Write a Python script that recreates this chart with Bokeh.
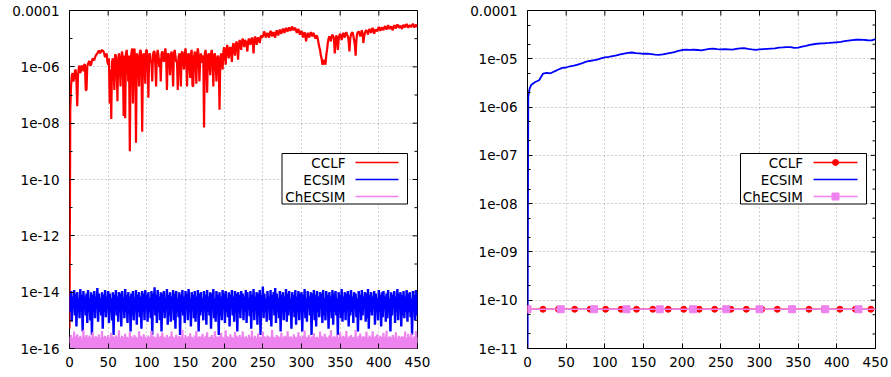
import numpy as np
from bokeh.plotting import figure
from bokeh.layouts import row
from bokeh.models import Range1d, FixedTicker, BoxAnnotation, Label
from bokeh.embed import file_html
from bokeh.resources import INLINE

# ---------------- data ----------------
steps_left = list(range(0, 451, 1))

cclf_left = [
    5e-16, 3e-8, 2e-7, 5e-7, 6e-7, 3e-7, 4e-7, 7e-7, 8e-7, 3e-7,
    4e-8, 5e-7, 9e-7, 1.1e-6, 6e-7, 8e-7, 1.1e-6, 1e-6, 7e-7, 1.2e-6,
    1.2e-6, 1.5e-7, 1.5e-7, 1e-6, 1.3e-6, 1.5e-6, 1.6e-6, 1.1e-6, 1.2e-6, 1.6e-6,
    2e-6, 1.8e-6, 1.7e-6, 2.2e-6, 2.5e-6, 2.8e-6, 3e-6, 3.4e-6, 3.8e-6, 3.2e-6,
    3.2e-6, 3.6e-6, 4e-6, 3.7e-6, 3.5e-6, 2.8e-6, 2.2e-6, 2.6e-6, 3e-6, 1.5e-6,
    1.2e-6, 2e-6, 5e-8, 8e-7, 1.4e-8, 1.5e-6, 2e-6, 1e-6, 1.5e-7, 2.8e-6,
    2.5e-6, 9e-7, 6e-8, 1.8e-6, 3e-6, 1.2e-6, 2e-7, 2.2e-6, 3.5e-6, 1.4e-6,
    1.8e-8, 2.5e-6, 1.5e-8, 3e-6, 4e-6, 1.6e-6, 3e-7, 2.5e-6, 1e-9, 1.5e-6,
    3e-6, 4.5e-6, 5e-8, 2e-6, 4.5e-6, 1.2e-6, 2e-9, 3e-6, 2.5e-6, 1.4e-6,
    2e-7, 3.5e-6, 4e-6, 1.6e-6, 5e-9, 2.5e-6, 3e-6, 1.2e-6, 2.5e-7, 3.8e-6,
    4e-6, 2e-6, 8e-8, 2.4e-6, 3e-6, 1.5e-6, 1.5e-6, 3e-7, 2.8e-6, 3.5e-6,
    3.5e-6, 1.1e-6, 2e-7, 2.5e-6, 4e-6, 2.6e-6, 1e-6, 2e-6, 3e-7, 3e-6,
    3.5e-6, 2.2e-6, 1.5e-6, 3e-6, 4.5e-6, 2e-6, 1.5e-7, 2.8e-6, 3e-6, 1.8e-6,
    5e-7, 2.5e-6, 3.5e-6, 1.3e-6, 2e-7, 3e-6, 4e-6, 2.4e-6, 1.5e-6, 1.6e-6,
    1.5e-7, 2.2e-6, 3e-6, 1.2e-6, 2e-7, 3.2e-6, 3.5e-6, 1.7e-6, 8e-7, 2.8e-6,
    4.5e-6, 2e-6, 2e-7, 2.5e-6, 3e-6, 1.5e-6, 4e-7, 3e-6, 4e-6, 2.2e-7,
    2e-7, 2.2e-6, 3.5e-6, 1.6e-6, 2.5e-7, 3e-6, 4.5e-6, 2.5e-6, 3e-7, 1.8e-6,
    3e-6, 1.5e-6, 1.5e-6, 2.6e-6, 7e-9, 3e-6, 4e-6, 1.8e-6, 1.2e-7, 2.4e-6,
    3e-6, 1.6e-6, 5e-7, 3e-6, 4e-6, 2e-6, 2e-7, 2.5e-6, 3e-6, 1.5e-6,
    3e-7, 2e-6, 2.5e-6, 1.2e-6, 3e-8, 2e-6, 3e-6, 2e-6, 8e-7, 3.5e-6,
    5e-6, 2.5e-6, 1.2e-6, 4e-6, 6e-6, 3e-6, 2e-6, 4.5e-6, 5e-6, 3e-6,
    1.5e-6, 5e-6, 7e-6, 4e-6, 2.5e-6, 6e-6, 8e-6, 5e-6, 1.8e-6, 6e-6,
    9e-6, 6e-6, 4e-6, 8e-6, 1e-5, 7e-6, 5e-6, 9e-6, 8e-6, 6e-6,
    3.5e-6, 8e-6, 1e-5, 8e-6, 6e-6, 9e-6, 1.1e-5, 8e-6, 3e-6, 9e-6,
    1.2e-5, 9e-6, 6e-6, 1e-5, 1.1e-5, 9e-6, 7e-6, 1.1e-5, 1.3e-5, 1.1e-5,
    1.2e-5, 1.5e-5, 1.8e-5, 1.3e-5, 1.1e-5, 1.4e-5, 1.6e-5, 1.3e-5, 1.1e-5, 1.5e-5,
    1.9e-5, 1.5e-5, 1.2e-5, 1.6e-5, 1.7e-5, 1.3e-5, 1.1e-5, 1.6e-5, 2e-5, 1.6e-5,
    1.3e-5, 1.8e-5, 2.1e-5, 1.7e-5, 1.5e-5, 1.9e-5, 2.3e-5, 1.9e-5, 1.6e-5, 2.1e-5,
    2.4e-5, 2e-5, 1.8e-5, 2.2e-5, 2.5e-5, 2.1e-5, 1.9e-5, 2.4e-5, 2.7e-5, 2.2e-5,
    2e-5, 2.3e-5, 2.4e-5, 1.9e-5, 1.6e-5, 2e-5, 2.2e-5, 1.7e-5, 1.4e-5, 1.7e-5,
    1.9e-5, 1.5e-5, 1.1e-5, 1.5e-5, 1.7e-5, 1.2e-5, 8e-6, 1.3e-5, 1.6e-5, 1.3e-5,
    1.1e-5, 1.4e-5, 1.7e-5, 1.4e-5, 1.2e-5, 1.6e-5, 1.5e-5, 1.2e-5, 1e-5, 1.2e-5,
    1.3e-5, 1e-5, 7e-6, 5e-6, 4e-6, 2.5e-6, 2e-6, 1.2e-6, 1.3e-6, 1.8e-6,
    1.5e-6, 1.2e-6, 2.5e-6, 4e-6, 7e-6, 1e-5, 1.2e-5, 1e-5, 8e-6, 1.2e-5,
    1.4e-5, 1.2e-5, 1e-5, 3e-6, 8e-6, 1.3e-5, 1.1e-5, 4e-6, 9e-6, 1.3e-5,
    1.5e-5, 1.2e-5, 9e-6, 1.3e-5, 1.6e-5, 1.3e-5, 1.1e-5, 1.5e-5, 1.7e-5, 1.4e-5,
    1.2e-5, 8e-6, 3.5e-6, 1e-5, 1.4e-5, 1.6e-5, 1.7e-5, 1.3e-5, 9e-6, 6e-6,
    2.5e-6, 9e-6, 1.5e-5, 1.7e-5, 1.8e-5, 1.5e-5, 1.2e-5, 1.6e-5, 2e-5, 1.5e-5,
    7e-6, 1.2e-5, 1.6e-5, 1.9e-5, 2e-5, 1.7e-5, 1.4e-5, 1.9e-5, 2.2e-5, 1.9e-5,
    1.6e-5, 2e-5, 2.4e-5, 2e-5, 1.5e-5, 1.9e-5, 2.1e-5, 2e-5, 1.8e-5, 2.2e-5,
    2.6e-5, 2.2e-5, 1.9e-5, 2.3e-5, 2.5e-5, 2.2e-5, 2e-5, 2.5e-5, 2.8e-5, 2.4e-5,
    2.1e-5, 2.6e-5, 3e-5, 2.5e-5, 2.2e-5, 2.5e-5, 2.7e-5, 2.3e-5, 2e-5, 2.6e-5,
    3e-5, 2.6e-5, 2.3e-5, 2.8e-5, 3.2e-5, 2.8e-5, 2.4e-5, 2.7e-5, 2.9e-5, 2.5e-5,
    2.2e-5, 2.7e-5, 3.1e-5, 2.8e-5, 2.5e-5, 3e-5, 3.3e-5, 2.9e-5, 2.4e-5, 2.8e-5,
    3e-5, 2.8e-5, 2.6e-5, 3e-5, 3.4e-5, 2.9e-5, 2.5e-5, 2.9e-5, 3.1e-5, 2.8e-5,
    2.7e-5,
]

ecsim_left = [
    8e-15, 2e-15, 1.1e-14, 9e-16, 7e-15, 3e-15, 1.2e-14, 1.5e-15, 9e-15, 6e-16,
    1e-14, 2.5e-15, 6e-15, 1.2e-15, 1.3e-14, 2e-15, 8e-15, 4e-16, 1.1e-14, 3e-15,
    7e-15, 1.5e-15, 9e-15, 8e-16, 1.2e-14, 2e-15, 6e-15, 1e-15, 1e-14, 3e-16,
    8e-15, 2.5e-15, 1.1e-14, 1.2e-15, 7e-15, 3e-15, 1.4e-14, 9e-16, 9e-15, 2e-15,
    6e-15, 1.5e-15, 1e-14, 5e-16, 8e-15, 2e-15, 1.2e-14, 1.3e-15, 7e-15, 3e-15,
    1.1e-14, 8e-16, 9e-15, 2e-15, 6e-15, 1e-15, 1e-14, 3e-16, 8e-15, 2.5e-15,
    1.2e-14, 1.5e-15, 7e-15, 9e-16, 1e-14, 2e-15, 9e-15, 6e-16, 1.1e-14, 3e-15,
    6e-15, 1.2e-15, 1.3e-14, 2e-15, 8e-15, 8e-16, 1e-14, 2.5e-15, 7e-15, 4e-16,
    9e-15, 1.5e-15, 1.1e-14, 1e-15, 6e-15, 3e-15, 1.2e-14, 7e-16, 8e-15, 2e-15,
    1e-14, 1.3e-15, 7e-15, 5e-16, 1.1e-14, 2e-15, 9e-15, 1e-15, 1.2e-14, 3e-15,
    8e-15, 9e-16, 1e-14, 2e-15, 6e-15, 1.2e-15, 1.1e-14, 3e-16, 9e-15, 2.5e-15,
    1.5e-14, 1.5e-15, 8e-15, 8e-16, 1.2e-14, 2e-15, 7e-15, 1e-15, 1e-14, 4e-16,
    9e-15, 2e-15, 1.1e-14, 1.2e-15, 6e-15, 3e-15, 1.3e-14, 7e-16, 8e-15, 1.5e-15,
    1e-14, 9e-16, 7e-15, 2.5e-15, 1.2e-14, 1e-15, 9e-15, 5e-16, 1.1e-14, 2e-15,
    6e-15, 1.3e-15, 1e-14, 3e-16, 8e-15, 2e-15, 1.2e-14, 1.5e-15, 7e-15, 8e-16,
    1.1e-14, 2.5e-15, 9e-15, 1e-15, 1.3e-14, 2e-15, 6e-15, 6e-16, 1e-14, 3e-15,
    8e-15, 1.2e-15, 1.1e-14, 9e-16, 7e-15, 2e-15, 1.2e-14, 4e-16, 9e-15, 1.5e-15,
    1e-14, 2e-15, 6e-15, 1e-15, 1.1e-14, 3e-15, 8e-15, 7e-16, 1.2e-14, 2e-15,
    7e-15, 1.5e-15, 1e-14, 5e-16, 9e-15, 2.5e-15, 1.3e-14, 1.2e-15, 6e-15, 9e-16,
    1.1e-14, 2e-15, 8e-15, 3e-16, 1e-14, 1.5e-15, 7e-15, 1e-15, 1.2e-14, 2.5e-15,
    9e-15, 8e-16, 1.1e-14, 2e-15, 6e-15, 1.3e-15, 1e-14, 6e-16, 8e-15, 3e-15,
    1.2e-14, 1.5e-15, 7e-15, 9e-16, 1.1e-14, 2e-15, 9e-15, 4e-16, 1e-14, 2e-15,
    8e-15, 1.2e-15, 1.1e-14, 2.5e-15, 9e-15, 1e-15, 7e-15, 2e-15, 1.2e-14, 8e-16,
    1e-14, 3e-15, 6e-15, 1.4e-15, 1.1e-14, 5e-16, 8e-15, 2e-15, 1.3e-14, 1e-15,
    7e-15, 2.5e-15, 1e-14, 7e-16, 9e-15, 1.5e-15, 1.2e-14, 3e-16, 8e-15, 2e-15,
    1.6e-14, 1.2e-15, 9e-15, 2e-15, 6e-15, 9e-16, 1.1e-14, 3e-15, 7e-15, 1e-15,
    1.2e-14, 6e-16, 8e-15, 2.5e-15, 1e-14, 1.5e-15, 1.4e-14, 8e-16, 9e-15, 2e-15,
    6e-15, 1.2e-15, 1.1e-14, 4e-16, 8e-15, 3e-15, 1e-14, 1e-15, 7e-15, 2e-15,
    1.3e-14, 9e-16, 9e-15, 1.5e-15, 1.1e-14, 2.5e-15, 6e-15, 5e-16, 1e-14, 2e-15,
    8e-15, 1.3e-15, 1.2e-14, 7e-16, 7e-15, 2e-15, 1.1e-14, 1e-15, 9e-15, 3e-15,
    1e-14, 4e-16, 8e-15, 2e-15, 1.3e-14, 1.2e-15, 6e-15, 9e-16, 1.1e-14, 2.5e-15,
    7e-15, 1.5e-15, 1e-14, 3e-16, 9e-15, 2e-15, 1.2e-14, 1e-15, 8e-15, 6e-16,
    1.1e-14, 2e-15, 7e-15, 1.3e-15, 1e-14, 3e-15, 9e-15, 8e-16, 1.2e-14, 1.5e-15,
    6e-15, 1e-15, 1.1e-14, 2.5e-15, 8e-15, 5e-16, 1e-14, 2e-15, 7e-15, 1.2e-15,
    1.2e-14, 7e-16, 9e-15, 2e-15, 1.1e-14, 1.5e-15, 6e-15, 3e-16, 1e-14, 2.5e-15,
    8e-15, 1.2e-15, 1.3e-14, 9e-16, 7e-15, 2e-15, 1e-14, 1e-15, 9e-15, 3e-15,
    1.1e-14, 6e-16, 8e-15, 1.5e-15, 1.2e-14, 2e-15, 7e-15, 8e-16, 1e-14, 2.5e-15,
    9e-15, 1.3e-15, 6e-15, 4e-16, 1.1e-14, 2e-15, 8e-15, 1e-15, 1.2e-14, 1.5e-15,
    7e-15, 2.5e-15, 1e-14, 9e-16, 9e-15, 1.2e-15, 1.3e-14, 5e-16, 8e-15, 2e-15,
    1e-14, 1.5e-15, 7e-15, 3e-15, 1.1e-14, 7e-16, 9e-15, 2e-15, 6e-15, 1e-15,
    1.2e-14, 2e-15, 8e-15, 6e-16, 1e-14, 1.3e-15, 1.1e-14, 2.5e-15, 7e-15, 9e-16,
    9e-15, 1.2e-15, 1.2e-14, 2e-15, 6e-15, 4e-16, 1e-14, 1.5e-15, 8e-15, 3e-15,
    1.1e-14, 8e-16, 7e-15, 2e-15, 1.3e-14, 1e-15, 9e-15, 2.5e-15, 1e-14, 6e-16,
    8e-15, 1.5e-15, 1.1e-14, 1.2e-15, 7e-15, 2e-15, 1.2e-14, 9e-16, 9e-15, 2e-15,
    1e-14, 1.3e-15, 6e-15, 3e-16, 1.1e-14, 2.5e-15, 8e-15, 1e-15, 1.2e-14, 1.5e-15,
    9e-15,
]

checsim_left = [
    2.6e-16, 5e-17, 3e-16, 4e-17, 2.4e-16, 6e-17, 4e-16, 3e-17, 2.7e-16, 5e-17,
    3.2e-16, 4e-17, 2.5e-16, 6e-17, 2.8e-16, 3e-17, 2.3e-16, 5e-17, 4.5e-16, 4e-17,
    2.6e-16, 6e-17, 3e-16, 3e-17, 2.5e-16, 5e-17, 2.9e-16, 4e-17, 2.4e-16, 6e-17,
    3.8e-16, 5e-17, 2.6e-16, 4e-17, 2.7e-16, 3e-17, 2.5e-16, 6e-17, 3.1e-16, 5e-17,
    2.4e-16, 4e-17, 4.2e-16, 3e-17, 2.6e-16, 5e-17, 2.8e-16, 6e-17, 2.5e-16, 4e-17,
    3e-16, 5e-17, 2.4e-16, 3e-17, 3.6e-16, 6e-17, 2.7e-16, 4e-17, 2.5e-16, 5e-17,
    2.9e-16, 3e-17, 2.6e-16, 6e-17, 4.4e-16, 4e-17, 2.4e-16, 5e-17, 2.8e-16, 3e-17,
    2.5e-16, 6e-17, 3.3e-16, 4e-17, 2.6e-16, 5e-17, 2.4e-16, 3e-17, 3.9e-16, 6e-17,
    2.7e-16, 4e-17, 2.5e-16, 5e-17, 3e-16, 3e-17, 2.6e-16, 6e-17, 2.4e-16, 4e-17,
    4.1e-16, 5e-17, 2.8e-16, 3e-17, 2.5e-16, 6e-17, 3.2e-16, 4e-17, 2.6e-16, 5e-17,
    2.4e-16, 3e-17, 2.9e-16, 6e-17, 2.5e-16, 4e-17, 4.3e-16, 5e-17, 2.7e-16, 3e-17,
    2.6e-16, 6e-17, 2.4e-16, 4e-17, 3.4e-16, 5e-17, 2.5e-16, 3e-17, 2.8e-16, 6e-17,
    3.7e-16, 4e-17, 2.6e-16, 5e-17, 2.4e-16, 3e-17, 3e-16, 6e-17, 2.5e-16, 4e-17,
    2.7e-16, 5e-17, 4e-16, 3e-17, 2.6e-16, 6e-17, 2.4e-16, 4e-17, 3.1e-16, 5e-17,
    2.5e-16, 3e-17, 2.8e-16, 6e-17, 2.6e-16, 4e-17, 4.5e-16, 5e-17, 2.4e-16, 3e-17,
    3e-16, 6e-17, 2.5e-16, 4e-17, 2.7e-16, 5e-17, 3.5e-16, 3e-17, 2.6e-16, 6e-17,
    2.4e-16, 4e-17, 2.9e-16, 5e-17, 4.2e-16, 3e-17, 2.5e-16, 6e-17, 2.7e-16, 4e-17,
    2.6e-16, 5e-17, 3.3e-16, 3e-17, 2.4e-16, 6e-17, 2.8e-16, 4e-17, 3.8e-16, 5e-17,
    2.5e-16, 3e-17, 2.6e-16, 6e-17, 3e-16, 4e-17, 2.4e-16, 5e-17, 4.1e-16, 3e-17,
    2.7e-16, 6e-17, 2.5e-16, 4e-17, 2.8e-16, 5e-17, 3.6e-16, 3e-17, 2.6e-16, 6e-17,
    2.4e-16, 4e-17, 4.4e-16, 5e-17, 2.7e-16, 3e-17, 2.5e-16, 6e-17, 3.2e-16, 4e-17,
    2.6e-16, 5e-17, 2.4e-16, 3e-17, 3.9e-16, 6e-17, 2.8e-16, 4e-17, 2.5e-16, 5e-17,
    3e-16, 3e-17, 2.6e-16, 6e-17, 4e-16, 4e-17, 2.5e-16, 5e-17, 2.7e-16, 3e-17,
    2.4e-16, 6e-17, 3.1e-16, 4e-17, 2.6e-16, 5e-17, 4.3e-16, 3e-17, 2.5e-16, 6e-17,
    2.8e-16, 4e-17, 2.4e-16, 5e-17, 3.4e-16, 3e-17, 2.6e-16, 6e-17, 2.5e-16, 4e-17,
    3.9e-16, 5e-17, 2.7e-16, 3e-17, 2.4e-16, 6e-17, 2.9e-16, 4e-17, 2.6e-16, 5e-17,
    2.5e-16, 3e-17, 4.6e-16, 6e-17, 2.6e-16, 4e-17, 2.4e-16, 5e-17, 3e-16, 3e-17,
    2.7e-16, 6e-17, 2.5e-16, 4e-17, 3.6e-16, 5e-17, 2.4e-16, 3e-17, 2.8e-16, 6e-17,
    2.6e-16, 4e-17, 4.1e-16, 5e-17, 2.5e-16, 3e-17, 2.7e-16, 6e-17, 2.4e-16, 4e-17,
    3.2e-16, 5e-17, 2.6e-16, 3e-17, 2.5e-16, 6e-17, 3.8e-16, 4e-17, 2.7e-16, 5e-17,
    2.4e-16, 3e-17, 2.8e-16, 6e-17, 4.3e-16, 4e-17, 2.5e-16, 5e-17, 2.6e-16, 3e-17,
    3e-16, 6e-17, 2.4e-16, 4e-17, 2.7e-16, 5e-17, 3.5e-16, 3e-17, 2.5e-16, 6e-17,
    2.6e-16, 4e-17, 2.4e-16, 5e-17, 4e-16, 3e-17, 2.8e-16, 6e-17, 2.5e-16, 4e-17,
    3.3e-16, 5e-17, 2.6e-16, 3e-17, 2.4e-16, 6e-17, 2.9e-16, 4e-17, 4.4e-16, 5e-17,
    2.5e-16, 3e-17, 2.7e-16, 6e-17, 2.6e-16, 4e-17, 3.1e-16, 5e-17, 2.4e-16, 3e-17,
    3.7e-16, 6e-17, 2.5e-16, 4e-17, 2.8e-16, 5e-17, 2.6e-16, 3e-17, 4.2e-16, 6e-17,
    2.4e-16, 4e-17, 2.7e-16, 5e-17, 3e-16, 3e-17, 2.5e-16, 6e-17, 2.6e-16, 4e-17,
    4.5e-16, 5e-17, 2.4e-16, 3e-17, 2.8e-16, 6e-17, 3.4e-16, 4e-17, 2.5e-16, 5e-17,
    2.7e-16, 3e-17, 2.6e-16, 6e-17, 3.9e-16, 4e-17, 2.4e-16, 5e-17, 2.9e-16, 3e-17,
    2.5e-16, 6e-17, 4.1e-16, 4e-17, 2.6e-16, 5e-17, 2.7e-16, 3e-17, 3.2e-16, 6e-17,
    2.4e-16, 4e-17, 2.8e-16, 5e-17, 2.5e-16, 3e-17, 3.6e-16, 6e-17, 2.6e-16, 4e-17,
    4.3e-16, 5e-17, 2.4e-16, 3e-17, 2.7e-16, 6e-17, 2.5e-16, 4e-17, 3e-16, 5e-17,
    2.6e-16, 3e-17, 3.8e-16, 6e-17, 2.4e-16, 4e-17, 2.8e-16, 5e-17, 2.5e-16, 3e-17,
    2.7e-16, 6e-17, 2.6e-16, 4e-17, 4e-16, 5e-17, 2.4e-16, 3e-17, 3.3e-16, 6e-17,
    2.6e-16, 5e-17, 3.5e-16, 4e-17, 2.4e-16, 6e-17, 2.7e-16, 3e-17, 4.2e-16, 5e-17,
    2.5e-16,
]

steps_ecsim_right = [0, 1, 2, 3] + list(range(5, 451, 5))
ecsim_right = [
    1e-12, 1.6e-6, 2.1e-6, 2.5e-6,
    2.9e-6, 3.3e-6, 3.6e-6, 4.9e-6, 5.1e-6, 5.0e-6, 5.5e-6, 6.0e-6, 6.5e-6, 6.6e-6,
    7.0e-6, 7.2e-6, 7.6e-6, 8.0e-6, 8.6e-6, 9.0e-6, 9.3e-6, 9.6e-6, 1.02e-5, 1.07e-5,
    1.1e-5, 1.14e-5, 1.18e-5, 1.23e-5, 1.28e-5, 1.33e-5, 1.35e-5, 1.31e-5, 1.3e-5, 1.27e-5,
    1.28e-5, 1.25e-5, 1.22e-5, 1.2e-5, 1.23e-5, 1.28e-5, 1.33e-5, 1.38e-5, 1.45e-5, 1.52e-5,
    1.55e-5, 1.53e-5, 1.54e-5, 1.52e-5, 1.5e-5, 1.55e-5, 1.6e-5, 1.62e-5, 1.58e-5, 1.56e-5,
    1.58e-5, 1.57e-5, 1.55e-5, 1.6e-5, 1.65e-5, 1.67e-5, 1.6e-5, 1.56e-5, 1.53e-5, 1.56e-5,
    1.58e-5, 1.6e-5, 1.62e-5, 1.64e-5, 1.7e-5, 1.72e-5, 1.75e-5, 1.74e-5, 1.68e-5, 1.7e-5,
    1.78e-5, 1.86e-5, 1.95e-5, 2.0e-5, 2.05e-5, 2.08e-5, 2.1e-5, 2.13e-5, 2.17e-5, 2.2e-5,
    2.25e-5, 2.32e-5, 2.38e-5, 2.44e-5, 2.48e-5, 2.5e-5, 2.47e-5, 2.42e-5, 2.4e-5, 2.55e-5,
]

# constant series on the right panel (last point ends the line, no marker there)
steps_cclf_right = [0, 20, 40, 61, 81, 101, 121, 141, 162, 182, 202, 222, 242,
                    263, 283, 303, 323, 343, 364, 384, 404, 424, 444, 450]
cclf_right = [6.5e-11, 6.5e-11, 6.5e-11, 6.5e-11, 6.5e-11, 6.5e-11, 6.5e-11, 6.5e-11,
              6.5e-11, 6.5e-11, 6.5e-11, 6.5e-11, 6.5e-11, 6.5e-11, 6.5e-11, 6.5e-11,
              6.5e-11, 6.5e-11, 6.5e-11, 6.5e-11, 6.5e-11, 6.5e-11, 6.5e-11, 6.5e-11]
steps_checsim_right = [0, 43, 86, 128, 171, 214, 257, 300, 342, 385, 428, 450]
checsim_right = [6.5e-11, 6.5e-11, 6.5e-11, 6.5e-11, 6.5e-11, 6.5e-11,
                 6.5e-11, 6.5e-11, 6.5e-11, 6.5e-11, 6.5e-11, 6.5e-11]

x_ticks = [0, 50, 100, 150, 200, 250, 300, 350, 400, 450]
x_labels = ["0", "50", "100", "150", "200", "250", "300", "350", "400", "450"]
left_y_ticks = [1e-16, 1e-14, 1e-12, 1e-10, 1e-8, 1e-6, 1e-4]
left_y_labels = ["1e-16", "1e-14", "1e-12", "1e-10", "1e-08", "1e-06", "0.0001"]
left_y_minor = [1e-15, 1e-13, 1e-11, 1e-9, 1e-7, 1e-5]
right_y_ticks = [1e-11, 1e-10, 1e-9, 1e-8, 1e-7, 1e-6, 1e-5, 1e-4]
right_y_labels = ["1e-11", "1e-10", "1e-09", "1e-08", "1e-07", "1e-06", "1e-05", "0.0001"]
right_y_minor = [2e-11, 5e-11, 2e-10, 5e-10, 2e-9, 5e-9, 2e-8, 5e-8,
                 2e-7, 5e-7, 2e-6, 5e-6, 2e-5, 5e-5]

series_names = ["CCLF", "ECSIM", "ChECSIM"]
RED, BLUE, VIOLET = "#ff0000", "#0000ff", "#ee82ee"

FONT = "DejaVu Sans"
FSIZE = "13.5px"
HEIGHT = 377
TOP, BOTTOM = 10, 29
FRAME_W = 348
FRAME_H = HEIGHT - TOP - BOTTOM
TICK_MAJ, TICK_MIN = 5, 3


def style_axis(ax):
    ax.axis_line_color = None
    ax.major_tick_line_color = "black"
    ax.minor_tick_line_color = "black"
    ax.major_tick_in = TICK_MAJ
    ax.major_tick_out = 0
    ax.minor_tick_in = TICK_MIN
    ax.minor_tick_out = 0
    ax.major_label_text_font = FONT
    ax.major_label_text_color = "black"
    ax.major_label_text_font_size = FSIZE


def make_fig(width, mbl, mbr, ylo, yhi, yticks, ylabels, yminor):
    p = figure(width=width, height=HEIGHT, output_backend="svg", toolbar_location=None,
               x_range=Range1d(0, 450), y_range=Range1d(ylo, yhi), y_axis_type="log",
               min_border_left=mbl, min_border_right=mbr,
               min_border_top=TOP, min_border_bottom=BOTTOM)
    p.outline_line_color = "black"
    p.outline_line_width = 1
    p.outline_line_alpha = 1
    p.background_fill_color = "white"
    p.border_fill_color = "white"
    xt = FixedTicker(ticks=x_ticks)
    yt = FixedTicker(ticks=yticks, minor_ticks=yminor)
    p.xaxis.ticker = xt
    p.yaxis.ticker = yt
    p.xgrid.ticker = xt
    p.ygrid.ticker = yt
    for g in (p.xgrid, p.ygrid):
        g.grid_line_color = "#a0a0a0"
        g.grid_line_dash = "1 3"
        g.grid_line_width = 1
    p.yaxis.major_label_overrides = dict(zip(yticks, ylabels))
    p.xaxis.major_label_overrides = dict(zip(x_ticks, x_labels))
    style_axis(p.xaxis[0])
    style_axis(p.yaxis[0])
    p.yaxis.major_label_standoff = 10
    p.xaxis.major_label_standoff = 8

    # mirrored inward ticks on the top and right borders (gnuplot style)
    l0, l1 = np.log10(ylo), np.log10(yhi)
    dx_maj = TICK_MAJ / FRAME_W * 450.0
    dx_min = TICK_MIN / FRAME_W * 450.0
    p.segment(x0=[450] * len(yticks), y0=yticks,
              x1=[450 - dx_maj] * len(yticks), y1=yticks,
              line_color="black", line_width=1)
    p.segment(x0=[450] * len(yminor), y0=yminor,
              x1=[450 - dx_min] * len(yminor), y1=yminor,
              line_color="black", line_width=1)
    ytop_in = 10 ** (l1 - TICK_MAJ / FRAME_H * (l1 - l0))
    p.segment(x0=x_ticks, y0=[yhi] * len(x_ticks),
              x1=x_ticks, y1=[ytop_in] * len(x_ticks),
              line_color="black", line_width=1)
    return p


def px2data(px, py, fl, ylo, yhi):
    """convert figure-pixel layout positions to data coordinates (for the key box)"""
    x = (px - fl) / FRAME_W * 450.0
    l0, l1 = np.log10(ylo), np.log10(yhi)
    ly = l1 - (py - TOP) / FRAME_H * (l1 - l0)
    return float(x), float(10 ** ly)


def add_key(p, fl, box_l, box_r, text_r, line_l, line_r, markers, ylo, yhi):
    bl, bt = px2data(box_l, 153, fl, ylo, yhi)
    br, bb = px2data(box_r, 203.5, fl, ylo, yhi)
    p.add_layout(BoxAnnotation(left=bl, right=br, top=bt, bottom=bb,
                               fill_color="white", fill_alpha=1.0,
                               line_color="black", line_width=1, line_alpha=1.0,
                               level="underlay"))
    colors = [RED, BLUE, VIOLET]
    rows_y = [162, 179, 196]
    for name, col, ry, mk in zip(series_names, colors, rows_y, markers):
        tx, ty = px2data(text_r, ry, fl, ylo, yhi)
        p.add_layout(Label(x=tx, y=ty, text=name, text_align="right",
                           text_baseline="middle", text_font=FONT,
                           text_font_size=FSIZE, text_color="black"))
        x0, yy = px2data(line_l, ry, fl, ylo, yhi)
        x1, _ = px2data(line_r, ry, fl, ylo, yhi)
        p.segment(x0=[x0], y0=[yy], x1=[x1], y1=[yy], line_color=col, line_width=1.5)
        if mk is not None:
            xm, _ = px2data((line_l + line_r) / 2.0, ry, fl, ylo, yhi)
            p.scatter([xm], [yy], marker=mk[0], size=mk[1], fill_color=col, line_color=col)


# ---------------- left panel ----------------
p1 = make_fig(450, 69, 33, 1e-16, 1e-4, left_y_ticks, left_y_labels, left_y_minor)
p1.line(steps_left, cclf_left, line_color=RED, line_width=2.2)
p1.line(steps_left, ecsim_left, line_color=BLUE, line_width=2.4)
p1.line(steps_left, checsim_left, line_color=VIOLET, line_width=2.2)
add_key(p1, 69, 281.5, 407, 345, 355, 398, [None, None, None], 1e-16, 1e-4)

# ---------------- right panel ----------------
p2 = make_fig(441, 77, 16, 1e-11, 1e-4, right_y_ticks, right_y_labels, right_y_minor)
p2.line(steps_ecsim_right, ecsim_right, line_color=BLUE, line_width=1.8)
p2.line(steps_cclf_right, cclf_right, line_color=RED, line_width=1.5)
p2.scatter(steps_cclf_right[:-1], cclf_right[:-1], marker="circle", size=6,
           fill_color=RED, line_color=RED)
p2.line(steps_checsim_right, checsim_right, line_color=VIOLET, line_width=1.5)
p2.scatter(steps_checsim_right[:-1], checsim_right[:-1], marker="square", size=7,
           fill_color=VIOLET, line_color=VIOLET)
add_key(p2, 77, 290, 416, 352.5, 363, 407,
        [("circle", 6), None, ("square", 7)], 1e-11, 1e-4)

layout = row(p1, p2)
open("out.html", "w").write(file_html(layout, INLINE))
